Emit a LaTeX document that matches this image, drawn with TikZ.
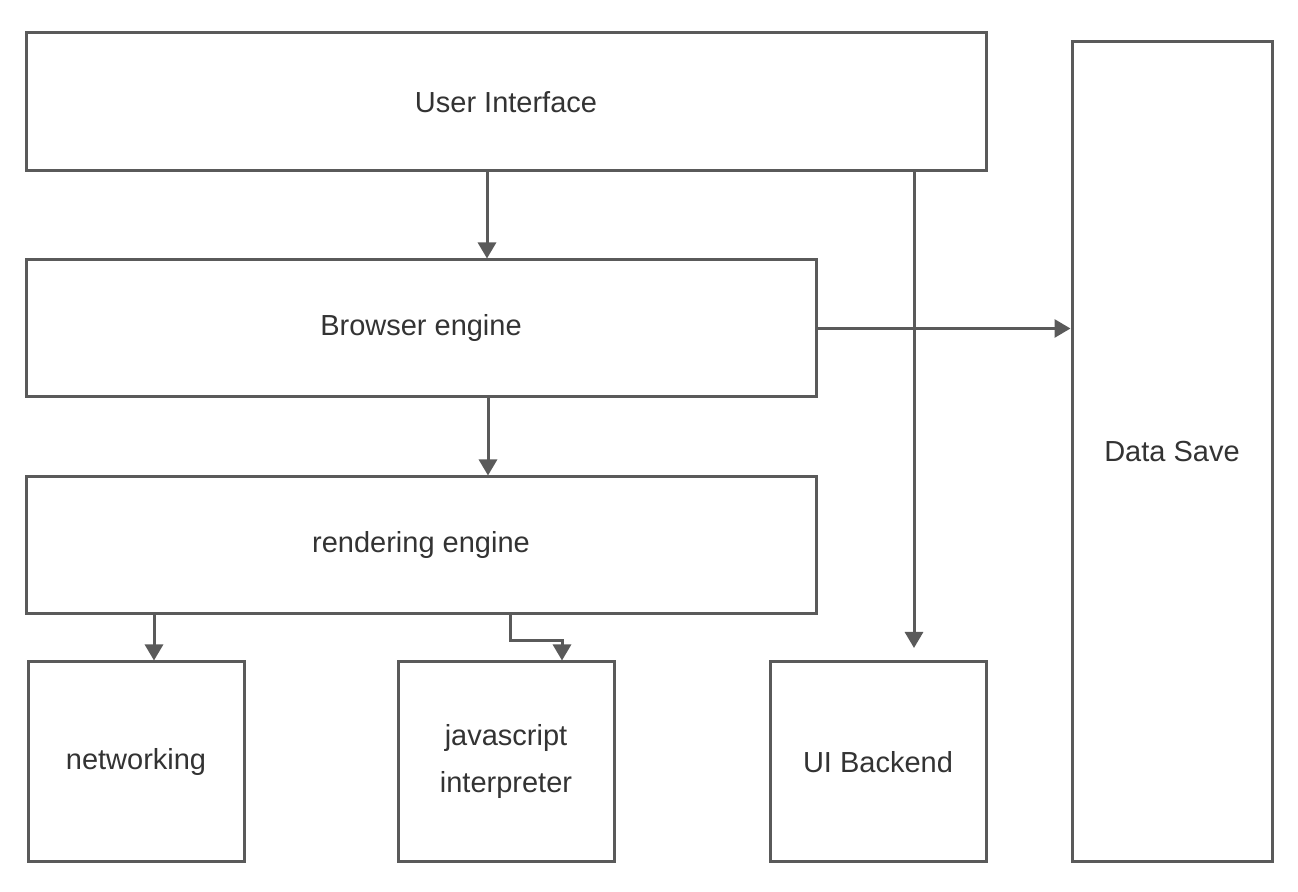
\documentclass[tikz,border=0pt]{standalone}
\usepackage{fontspec}
\setmainfont{Liberation Sans}
\usetikzlibrary{arrows.meta}
\definecolor{linegray}{HTML}{5A5A5A}
\definecolor{textgray}{HTML}{333333}
\begin{document}
\begin{tikzpicture}[x=0.5pt,y=-0.5pt,
  block/.style={draw=linegray, line width=1.5pt, fill=white, inner sep=0pt,
    text=textgray, font=\fontsize{14.5}{23.5}\selectfont, align=center},
  flow/.style={draw=linegray, line width=1.5pt, -{Triangle[width=9pt,length=8pt]}}]
      \useasboundingbox (0,0) rectangle (1298,892);
      % top and middle layers
      \node [block, minimum width=480pt, minimum height=69pt] (ui) at (506,102) {User Interface};
      \node [block, minimum width=395pt, minimum height=68.5pt] (be) at (421,328.5) {Browser engine};
      \node [block, minimum width=395pt, minimum height=68.5pt] (re) at (421,545.5) {rendering engine};
      % bottom row
      \node [block, minimum width=108pt, minimum height=100pt] (net) at (136,762) {networking};
      \node [block, minimum width=108pt, minimum height=100pt] (js) at (506,762) {javascript\\interpreter};
      \node [block, minimum width=108pt, minimum height=100pt] (uib) at (878,762) {UI Backend};
      \node [block, minimum width=100pt, minimum height=410pt] (ds) at (1172,452) {Data Save};
      \coordinate (uibtip) at (914,648);
      % connectors
      \draw [flow] (ui.south -| 487,0) -- (be.north -| 487,0);
      \draw [flow] (be.south -| 488,0) -- (re.north -| 488,0);
      \draw [flow] (re.south -| 154,0) -- (net.north -| 154,0);
      \draw [flow] (re.south -| 510,0) -- ++(0,25) -| (js.north -| 562,0);
      \draw [flow] (ui.south -| uibtip) -- (uibtip);
      \draw [flow] (be.east) -- (ds.west |- be.east);
\end{tikzpicture}
\end{document}
